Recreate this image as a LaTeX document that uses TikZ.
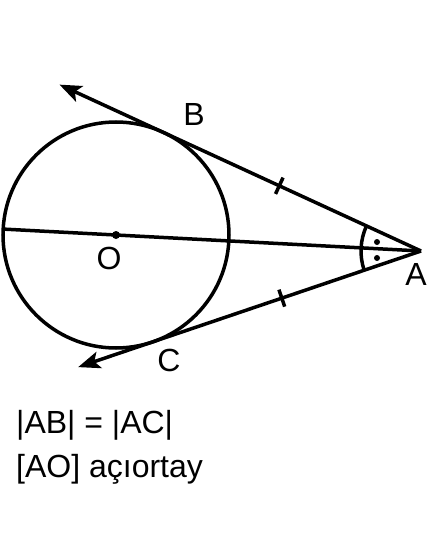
\documentclass[tikz,border=0pt]{standalone}
\usepackage{fontspec}
\setmainfont{Liberation Sans}
\usetikzlibrary{arrows.meta,calc}
\begin{document}
\begin{tikzpicture}[x=1pt,y=-1pt,
  geo/.style={line width=3.5pt},
  ray/.style={geo,-{Stealth[length=22pt,width=17pt,inset=5pt]}},
  lbl/.style={font=\fontsize{32}{32}\selectfont, inner sep=0pt},
  tickmark/.style={fill=black, minimum width=3.5pt, minimum height=18pt, inner sep=0pt, sloped},
  ptdot/.style={circle, fill=black, inner sep=0pt, minimum size=8pt},
  smalldot/.style={circle, fill=black, inner sep=0pt, minimum size=6pt}]
\useasboundingbox (0,0) rectangle (431,540);
\coordinate (O) at (116,235);
\coordinate (A) at (421,251);
\coordinate (tipB) at ($(A)+(204.71:398)$);
\coordinate (tipC) at ($(A)+(161.29:362)$);
\coordinate (D) at ($(O)!-113pt!(A)$);
% circle
\draw[geo] (O) circle[radius=113];
% diameter / bisector
\draw[geo] (D) -- (A);
% tangents with tick marks
\draw[ray] (A) -- (tipB) node[tickmark, pos=0.392] (t1) {};
\draw[ray] (A) -- (tipC) node[tickmark, pos=0.406] (t2) {};
% angle arc
\draw[geo] ($(A)+(161.29:60)$) arc[start angle=161.29, end angle=204.71, radius=60];
\node[smalldot] (d1) at ($(A)+(-44,-9)$) {};
\node[smalldot] (d2) at ($(A)+(-44,7)$) {};
% center dot
\node[ptdot] (Od) at (O) {};
% labels
\node[lbl] (lB) at (194,114) {B};
\node[lbl] (lC) at (169,360) {C};
\node[lbl] (lO) at (109,258) {O};
\node[lbl] (lA) at (416,274) {A};
\node[lbl, anchor=base west] (eq1) at (16,433) {|AB| = |AC|};
\node[lbl, anchor=base west] (eq2) at (16,477) {[AO] açıortay};
\end{tikzpicture}
\end{document}
